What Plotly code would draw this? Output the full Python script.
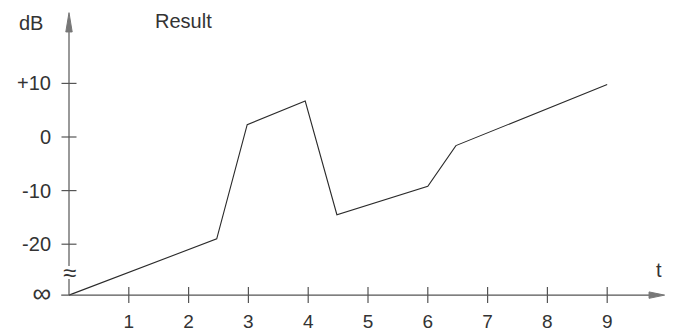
import plotly.graph_objects as go

# ---- data ----
INF_VAL = -29.5            # position used for the "∞" level
t_vals = [0, 2.47, 2.98, 3.95, 4.48, 6.0, 6.47, 9.0]
db_vals = [INF_VAL, -19.0, 2.3, 6.7, -14.5, -9.2, -1.6, 9.8]

x_ticks = [1, 2, 3, 4, 5, 6, 7, 8, 9]
x_ticklabels = ["1", "2", "3", "4", "5", "6", "7", "8", "9"]
y_ticks = [INF_VAL, -20, -10, 0, 10]
y_ticklabels = ["<span style='font-size:26px'>∞</span>", "-20", "-10", "0", "+10"]

W, H = 681, 333
# pixel geometry
X0_PX, PX_PER_T = 69.0, 59.8
Y0_PX, PX_PER_DB = 137.0, 5.36

x_range = [-X0_PX / PX_PER_T, (W - X0_PX) / PX_PER_T]
y_range = [(Y0_PX - H) / PX_PER_DB, Y0_PX / PX_PER_DB]

FONT = "Liberation Sans, Arial, Helvetica, sans-serif"
TXT = "#333333"
AX = "#555555"
FS = 20

fig = go.Figure()
fig.add_trace(go.Scatter(x=t_vals, y=db_vals, mode="lines",
                         line=dict(color="#2a2a2a", width=1.1),
                         hoverinfo="skip", showlegend=False))

shapes = []
dx_tick = 7.5 / PX_PER_T
dy_tick = 8.0 / PX_PER_DB
# x axis line
x_axis_end = 9.72
shapes.append(dict(type="line", xref="x", yref="y", x0=-0.13, x1=x_axis_end,
                   y0=INF_VAL, y1=INF_VAL, line=dict(color=AX, width=1.2)))
# x arrow
ah = 3.2 / PX_PER_DB
tip = 9.96
shapes.append(dict(type="path", xref="x", yref="y",
                   path=f"M {x_axis_end-0.02} {INF_VAL-ah} L {tip} {INF_VAL} L {x_axis_end-0.02} {INF_VAL+ah} Z",
                   fillcolor="#777777", line=dict(color="#777777", width=1)))
# y axis line (broken at ≈)
break_lo = INF_VAL + 16 / PX_PER_DB
break_hi = INF_VAL + 29 / PX_PER_DB
y_arrow_base = 19.6
y_tip = 23.2
shapes.append(dict(type="line", xref="x", yref="y", x0=0, x1=0,
                   y0=INF_VAL, y1=break_lo, line=dict(color=AX, width=1.2)))
shapes.append(dict(type="line", xref="x", yref="y", x0=0, x1=0,
                   y0=break_hi, y1=y_arrow_base, line=dict(color=AX, width=1.2)))
aw = 3.2 / PX_PER_T
shapes.append(dict(type="path", xref="x", yref="y",
                   path=f"M {-aw} {y_arrow_base} L 0 {y_tip} L {aw} {y_arrow_base} Z",
                   fillcolor="#777777", line=dict(color="#777777", width=1)))
# crossing ticks
for xv in x_ticks:
    shapes.append(dict(type="line", xref="x", yref="y", x0=xv, x1=xv,
                       y0=INF_VAL - dy_tick, y1=INF_VAL + dy_tick,
                       line=dict(color=AX, width=1.2)))
for yv in y_ticks[1:]:
    shapes.append(dict(type="line", xref="x", yref="y", x0=-dx_tick, x1=dx_tick,
                       y0=yv, y1=yv, line=dict(color=AX, width=1.2)))

annotations = [
    dict(x=0, y=(break_lo + break_hi) / 2, text="≈", showarrow=False,
         xref="x", yref="y", font=dict(family=FONT, size=24, color=TXT)),
    dict(x=1.92, y=21.6, text="Result", showarrow=False, xref="x", yref="y",
         font=dict(family=FONT, size=FS, color=TXT)),
    dict(x=-0.635, y=21.3, text="dB", showarrow=False, xref="x", yref="y",
         font=dict(family=FONT, size=FS, color=TXT)),
    dict(x=9.87, y=-24.8, text="t", showarrow=False, xref="x", yref="y",
         font=dict(family=FONT, size=FS, color=TXT)),
]

fig.update_layout(
    width=W, height=H,
    margin=dict(l=0, r=0, t=0, b=0, autoexpand=False),
    paper_bgcolor="white", plot_bgcolor="white",
    shapes=shapes, annotations=annotations,
    xaxis=dict(range=x_range, domain=[0, 1], anchor="free",
               position=(H - 295) / H, automargin=False,
               tickvals=x_ticks, ticktext=x_ticklabels,
               showgrid=False, zeroline=False, showline=False,
               ticks="", ticklabelstandoff=13,
               tickfont=dict(family=FONT, size=19, color=TXT)),
    yaxis=dict(range=y_range, domain=[0, 1], anchor="free",
               position=X0_PX / W, automargin=False,
               tickvals=y_ticks, ticktext=y_ticklabels,
               showgrid=False, zeroline=False, showline=False,
               ticks="", ticklabelstandoff=18,
               tickfont=dict(family=FONT, size=FS, color=TXT)),
    showlegend=False,
)

fig.write_html("out.html", config={"displayModeBar": False},
               post_script="document.body.style.margin='0';document.body.style.overflow='hidden';")
